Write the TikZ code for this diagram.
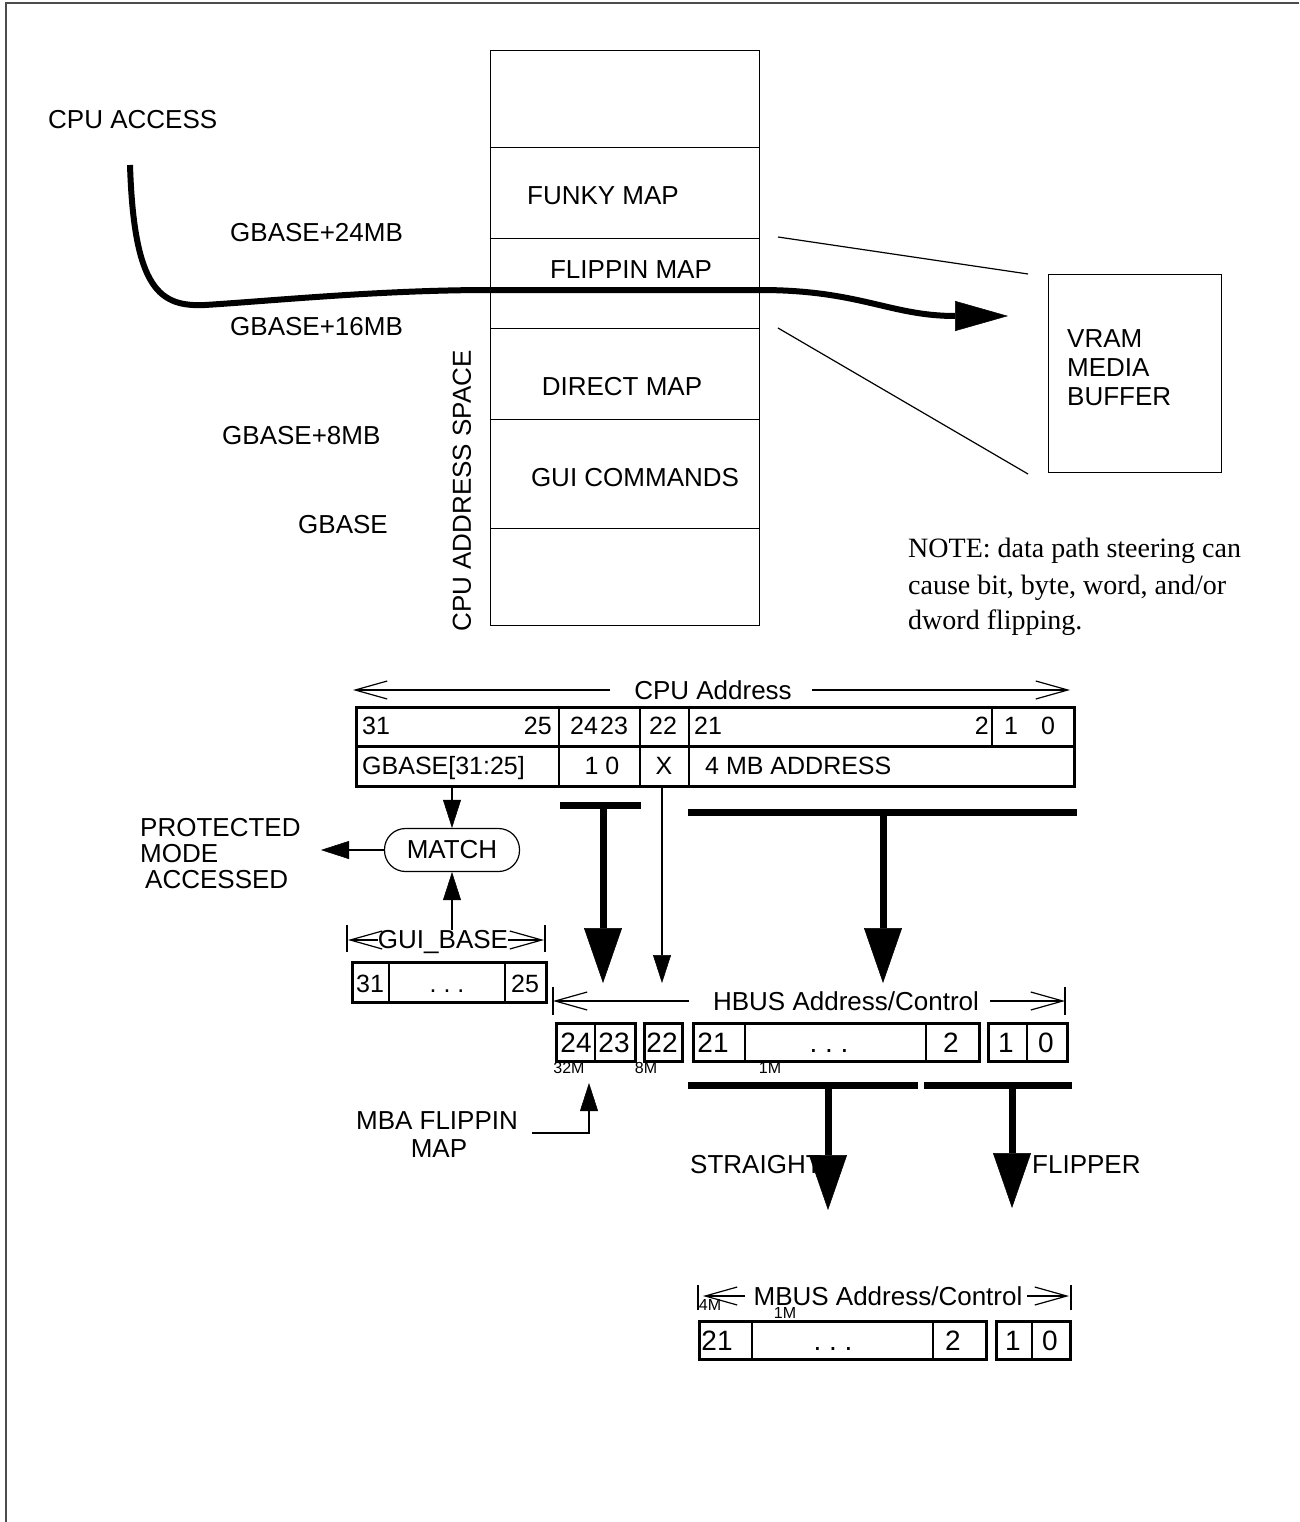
\documentclass[tikz,border=0pt]{standalone}
\usepackage{fontspec}
\setmainfont{Liberation Sans}
\newfontfamily\notefont{Liberation Serif}
\usetikzlibrary{arrows.meta,calc}
\begin{document}
\begin{tikzpicture}[x=1pt,y=-1pt,
  lbl/.style={inner sep=0pt,font=\fontsize{26}{26}\selectfont},
  dig/.style={inner sep=0pt,anchor=base,font=\fontsize{25}{25}\selectfont},
  bdig/.style={inner sep=0pt,anchor=base,font=\fontsize{28}{28}\selectfont},
  smalllbl/.style={inner sep=0pt,font=\fontsize{16}{16}\selectfont},
  notelbl/.style={inner sep=0pt,anchor=base west,font=\notefont\fontsize{28}{28}\selectfont},
  memseg/.style={draw,line width=1.3pt,inner sep=0pt,anchor=north west,minimum width=269pt,minimum height=#1},
  regbox/.style={draw,line width=3pt,inner sep=0pt,anchor=north west},
  divider/.style={line width=1.3pt},
  conn/.style={line width=1.2pt},
  barb/.style={-{Straight Barb[length=32pt,width=18pt]}},
  filltip/.style={-{Triangle[length=28pt,width=18pt,line width=0.5pt]}},
  bigarrow/.style={line width=7pt,-{Triangle[length=55pt,width=38pt,line width=0.5pt]}},
  busbar/.style={line width=7pt},
  dimtick/.style={line width=1.2pt},
]
\useasboundingbox (0,0) rectangle (1299,1522);
% frame
\draw[line width=2pt,black!70] (6,1522) -- (6,3) -- (1299,3);

% memory column
\node[memseg=97pt] (mem0) at (490,50) {};
\node[memseg=91pt] (mem1) at (490,147) {};
\node[memseg=90pt] (mem2) at (490,238) {};
\node[memseg=91pt] (mem3) at (490,328) {};
\node[memseg=109pt] (mem4) at (490,419) {};
\node[memseg=97pt] (mem5) at (490,528) {};
\node[lbl,anchor=base] (funky) at (603,205) {FUNKY MAP};
\node[lbl,anchor=base] (flippin) at (631,278) {FLIPPIN MAP};
\node[lbl,anchor=base] (direct) at (622,395) {DIRECT MAP};
\node[lbl,anchor=base] (guicmd) at (635,486) {GUI COMMANDS};
\node[lbl,rotate=90] (cpuspace) at (462,491) {CPU ADDRESS SPACE};

% left labels
\node[lbl,anchor=base west] (cpuaccess) at (48,129) {CPU ACCESS};
\node[lbl,anchor=base west] (g24) at (230,242) {GBASE+24MB};
\node[lbl,anchor=base west] (g16) at (230,335) {GBASE+16MB};
\node[lbl,anchor=base west] (g8) at (222,444) {GBASE+8MB};
\node[lbl,anchor=base west] (g0) at (298,533) {GBASE};

% VRAM
\node[draw,line width=1.3pt,inner sep=0pt,anchor=north west,minimum width=173pt,minimum height=198pt] (vram) at (1048,274) {};
\node[lbl,anchor=base west] (vram1) at (1067,347) {VRAM};
\node[lbl,anchor=base west] (vram2) at (1067,376) {MEDIA};
\node[lbl,anchor=base west] (vram3) at (1067,405) {BUFFER};
\coordinate (fanA1) at (778,237);
\coordinate (fanA2) at (1028,274);
\coordinate (fanB1) at (778,328);
\coordinate (fanB2) at (1028,474);
\draw[conn] (fanA1) -- (fanA2);
\draw[conn] (fanB1) -- (fanB2);

% CPU access curve
\coordinate (cpuStart) at (130,165);
\coordinate (vramTip) at (1008,316);
\draw[line width=6pt,-{Triangle[length=53pt,width=30pt,line width=0.5pt]}]
  (cpuStart) .. controls (134,290) and (160,307) .. (205,305)
  .. controls (270,301) and (380,290) .. (490,290) -- (760,290)
  .. controls (860,290) and (890,316) .. (vramTip);

% note
\node[notelbl] (note1) at (908,557) {NOTE: data path steering can};
\node[notelbl] (note2) at (908,594) {cause bit, byte, word, and/or};
\node[notelbl] (note3) at (908,629) {dword flipping.};

% CPU address dimension
\node[lbl,anchor=base] (cpuaddr) at (713,699) {CPU Address};
\coordinate (caL) at (353,690);
\coordinate (caLin) at (610,690);
\coordinate (caRin) at (812,690);
\coordinate (caR) at (1070,690);
\draw[conn,barb] (caLin) -- (caL);
\draw[conn,barb] (caRin) -- (caR);

% CPU register rows
\node[regbox,minimum width=718pt,minimum height=39pt] (cpurow1) at (355,706) {};
\node[regbox,minimum width=718pt,minimum height=40pt] (cpurow2) at (355,745) {};
\foreach \xx in {559,640,689,992}
  \draw[divider] (\xx,0 |- cpurow1.north) -- (\xx,0 |- cpurow1.south);
\foreach \xx in {559,640,689}
  \draw[divider] (\xx,0 |- cpurow2.north) -- (\xx,0 |- cpurow2.south);
\node[dig,anchor=base west] (b31) at (362,734) {31};
\node[dig,anchor=base east] (b25) at (552,734) {25};
\node[dig] (b24) at (584,734) {24};
\node[dig] (b23) at (614,734) {23};
\node[dig] (b22) at (663,734) {22};
\node[dig,anchor=base west] (b21) at (694,734) {21};
\node[dig,anchor=base east] (b2) at (989,734) {2};
\node[dig] (b1) at (1011,734) {1};
\node[dig] (b0) at (1048,734) {0};
\node[dig,anchor=base west] (gbf) at (362,774) {GBASE[31:25]};
\node[dig] (onezero) at (602,774) {1 0};
\node[dig] (xbit) at (664,774) {X};
\node[dig,anchor=base west] (fourmb) at (705,774) {4 MB ADDRESS};

% MATCH
\node[draw,conn,rounded corners=21pt,minimum width=135pt,minimum height=43pt,lbl] (match) at (452,850) {MATCH};
\draw[conn,filltip] (cpurow2.south -| match.north) -- (match.north);
\coordinate (protTip) at (321,850);
\draw[conn,filltip] (match.west) -- (protTip);
\node[lbl,anchor=base west] (prot1) at (140,836) {PROTECTED};
\node[lbl,anchor=base west] (prot2) at (140,862) {MODE};
\node[lbl,anchor=base west] (prot3) at (145,888) {ACCESSED};

% GUI_BASE
\node[lbl,anchor=base] (guibase) at (443,948) {GUI\_BASE};
\coordinate (gbL) at (348,940);
\coordinate (gbR) at (544,940);
\draw[conn,barb] (guibase.west |- gbL) -- (gbL);
\draw[conn,barb] (guibase.east |- gbR) -- (gbR);
\draw[dimtick] (347,925) -- (347,952);
\draw[dimtick] (545,925) -- (545,952);
\draw[conn,filltip] (guibase.north -| match.south) -- (match.south);
\node[regbox,minimum width=194pt,minimum height=40pt] (guireg) at (351,961) {};
\foreach \xx in {389,505}
  \draw[divider] (\xx,0 |- guireg.north) -- (\xx,0 |- guireg.south);
\node[dig] (g31) at (370,992) {31};
\node[dig] (gdots) at (447,992) {.\ .\ .};
\node[dig] (g25) at (525,992) {25};

% bars from CPU address
\coordinate (bar1L) at (560,805);
\coordinate (bar1R) at (641,805);
\draw[busbar] (bar1L) -- (bar1R);
\coordinate (bar1Tip) at (603,983);
\draw[bigarrow] (bar1Tip |- bar1L) -- (bar1Tip);
\coordinate (bar2L) at (688,812);
\coordinate (bar2R) at (1077,812);
\draw[busbar] (bar2L) -- (bar2R);
\coordinate (bar2Tip) at (883,983);
\draw[bigarrow] (bar2Tip |- bar2L) -- (bar2Tip);
\coordinate (xTip) at (662,983);
\draw[conn,filltip] (xTip |- cpurow2.south) -- (xTip);

% HBUS dimension
\node[lbl,anchor=base] (hbus) at (846,1010) {HBUS Address/Control};
\coordinate (hbL) at (553,1001);
\coordinate (hbLin) at (689,1001);
\coordinate (hbRin) at (990,1001);
\coordinate (hbR) at (1065,1001);
\draw[conn,barb] (hbLin) -- (hbL);
\draw[conn,barb] (hbRin) -- (hbR);
\draw[dimtick] (553,987) -- (553,1015);
\draw[dimtick] (1065,987) -- (1065,1015);

% HBUS registers
\node[regbox,minimum width=79pt,minimum height=38pt] (hb1) at (555,1022) {};
\node[regbox,minimum width=38pt,minimum height=38pt] (hb2) at (643,1022) {};
\node[regbox,minimum width=286pt,minimum height=38pt] (hb3) at (692,1022) {};
\node[regbox,minimum width=79pt,minimum height=38pt] (hb4) at (987,1022) {};
\draw[divider] (595,0 |- hb1.north) -- (595,0 |- hb1.south);
\draw[divider] (745,0 |- hb3.north) -- (745,0 |- hb3.south);
\draw[divider] (926,0 |- hb3.north) -- (926,0 |- hb3.south);
\draw[divider] (1027,0 |- hb4.north) -- (1027,0 |- hb4.south);
\node[bdig] (h24) at (576,1052) {24};
\node[bdig] (h23) at (614,1052) {23};
\node[bdig] (h22) at (662,1052) {22};
\node[bdig] (h21) at (713,1052) {21};
\node[bdig] (hdots) at (829,1052) {.\ .\ .};
\node[bdig] (h2) at (951,1052) {2};
\node[bdig] (h1) at (1006,1052) {1};
\node[bdig] (h0) at (1046,1052) {0};
\node[smalllbl] (m32) at (569,1068) {32M};
\node[smalllbl] (m8) at (646,1068) {8M};
\node[smalllbl] (m1) at (770,1068) {1M};

% MBA flippin map
\node[lbl,anchor=base] (mba1) at (437,1129) {MBA FLIPPIN};
\node[lbl,anchor=base] (mba2) at (439,1157) {MAP};
\coordinate (mbaStart) at (532,1133);
\coordinate (mbaTip) at (589,1083);
\draw[conn,filltip] (mbaStart) -| (mbaTip);

% lower bars
\coordinate (bar3L) at (688,1085);
\coordinate (bar3R) at (918,1085);
\coordinate (bar4L) at (924,1085);
\coordinate (bar4R) at (1072,1085);
\draw[busbar] (bar3L) -- (bar3R);
\draw[busbar] (bar4L) -- (bar4R);
\coordinate (bar3Tip) at (828,1210);
\coordinate (bar4Tip) at (1012,1208);
\draw[bigarrow] (bar3Tip |- bar3L) -- (bar3Tip);
\draw[bigarrow] (bar4Tip |- bar4L) -- (bar4Tip);
\node[lbl,anchor=base west] (straight) at (690,1173) {STRAIGHT};
\node[lbl,anchor=base west] (flipper) at (1032,1173) {FLIPPER};

% MBUS dimension
\node[lbl,anchor=base] (mbus) at (888,1305) {MBUS Address/Control};
\coordinate (mbL) at (703,1296);
\coordinate (mbLin) at (745,1296);
\coordinate (mbRin) at (1027,1296);
\coordinate (mbR) at (1069,1296);
\draw[conn,barb] (mbLin) -- (mbL);
\draw[conn,barb] (mbRin) -- (mbR);
\draw[dimtick] (698,1285) -- (698,1310);
\draw[dimtick] (1071,1285) -- (1071,1310);
\node[smalllbl] (m4b) at (710,1305) {4M};
\node[smalllbl] (m1b) at (785,1313) {1M};

% MBUS registers
\node[regbox,minimum width=287pt,minimum height=38pt] (mb1) at (698,1320) {};
\node[regbox,minimum width=74pt,minimum height=38pt] (mb2) at (995,1320) {};
\draw[divider] (752,0 |- mb1.north) -- (752,0 |- mb1.south);
\draw[divider] (933,0 |- mb1.north) -- (933,0 |- mb1.south);
\draw[divider] (1032,0 |- mb2.north) -- (1032,0 |- mb2.south);
\node[bdig] (mm21) at (717,1350) {21};
\node[bdig] (mmdots) at (833,1350) {.\ .\ .};
\node[bdig] (mm2) at (953,1350) {2};
\node[bdig] (mm1) at (1013,1350) {1};
\node[bdig] (mm0) at (1050,1350) {0};
\end{tikzpicture}
\end{document}
